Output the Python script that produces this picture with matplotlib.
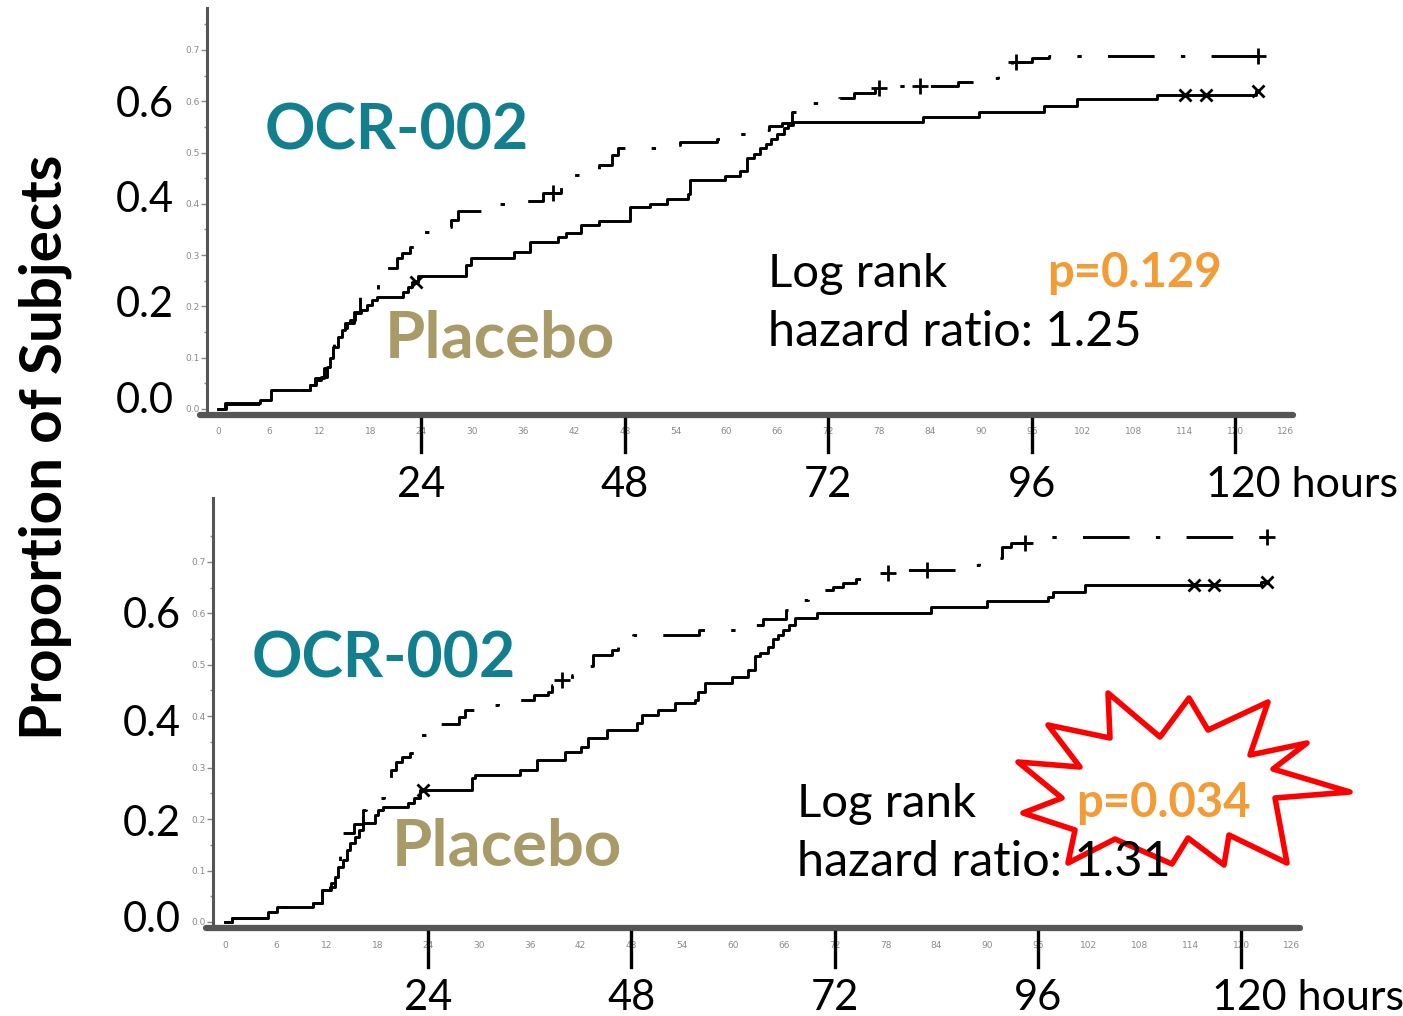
import matplotlib
matplotlib.use("Agg")
import matplotlib.pyplot as plt
from matplotlib.patches import Polygon

plt.rcParams['font.family'] = ['Lato', 'DejaVu Sans']

# ---- data (hours, cumulative proportion) ----
top_ocr_t = [0, 1, 5, 6.5, 10.8, 11.5, 12.5, 13.2, 13.7, 14.0, 15.2, 16.0, 16.8, 18.3, 18.9,
             19.6, 19.9, 21.1, 21.7, 22.6, 23.2, 27.0, 27.5, 28.3, 32.5, 35.0, 38.4, 40.5,
             41.8, 43.0, 45.0, 46.5, 47.2, 52.0, 54.5, 58.9, 60.5, 63.0, 65.0, 66.5, 67.7,
             68.7, 71.5, 73.3, 75.0, 77.5, 78.5, 87.3, 89.7, 92.0, 93.7, 96.0, 98.0, 122.7]
top_ocr_p = [0, 0.01, 0.018, 0.037, 0.047, 0.06, 0.08, 0.10, 0.13, 0.158, 0.168, 0.19, 0.222,
             0.232, 0.245, 0.26, 0.275, 0.294, 0.304, 0.316, 0.345, 0.355, 0.368, 0.385, 0.40,
             0.405, 0.421, 0.438, 0.456, 0.46, 0.476, 0.495, 0.509, 0.515, 0.52, 0.526, 0.536,
             0.544, 0.552, 0.557, 0.578, 0.596, 0.602, 0.606, 0.616, 0.626, 0.63, 0.637, 0.645,
             0.668, 0.676, 0.684, 0.688, 0.688]
top_ocr_cens = [39.5, 78.0, 82.8, 94.2, 122.7]

top_pla_t = [0, 0.8, 5.0, 6.3, 10.8, 11.6, 12.2, 12.8, 13.2, 13.6, 14.2, 14.6, 15.0, 15.6,
             16.2, 16.9, 17.6, 18.2, 18.7, 21.8, 22.4, 22.9, 23.6, 29.2, 29.8, 34.9, 36.8,
             40.1, 41.0, 42.8, 45.0, 48.6, 51.0, 53.0, 55.4, 55.7, 59.8, 61.6, 62.4, 63.2,
             64.0, 64.6, 65.2, 66.0, 66.8, 67.3, 67.8, 83.2, 89.8, 97.4, 101.3, 110.8, 122.5,
             122.7]
top_pla_p = [0, 0.012, 0.018, 0.037, 0.047, 0.057, 0.062, 0.082, 0.10, 0.12, 0.14, 0.154,
             0.168, 0.173, 0.187, 0.193, 0.203, 0.212, 0.218, 0.228, 0.238, 0.248, 0.26, 0.28,
             0.294, 0.306, 0.325, 0.335, 0.343, 0.359, 0.366, 0.394, 0.40, 0.41, 0.42, 0.446,
             0.454, 0.464, 0.49, 0.497, 0.508, 0.516, 0.526, 0.536, 0.548, 0.553, 0.56, 0.569,
             0.578, 0.59, 0.605, 0.612, 0.62, 0.62]
top_pla_cens = [23.3, 114.1, 116.6, 122.7]

bot_ocr_t = [0, 0.8, 5.0, 6.0, 10.4, 11.5, 12.5, 13.2, 13.6, 13.8, 15.2, 16.3, 16.7, 18.8,
             19.2, 19.6, 20.2, 20.9, 21.8, 22.7, 23.0, 23.7, 24.3, 27.6, 28.3, 30.5, 32.2,
             36.5, 38.1, 38.6, 39.3, 41.0, 41.6, 43.5, 45.7, 46.4, 47.2, 48.2, 56.0, 60.5,
             63.5, 66.2, 66.8, 67.8, 68.8, 69.4, 71.8, 73.0, 74.5, 75.8, 78.7, 87.5, 89.0,
             90.3, 91.8, 92.8, 97.5, 123.0]
bot_ocr_p = [0, 0.008, 0.02, 0.03, 0.037, 0.062, 0.075, 0.10, 0.134, 0.173, 0.19, 0.218,
             0.241, 0.263, 0.28, 0.296, 0.311, 0.321, 0.329, 0.34, 0.364, 0.373, 0.385, 0.399,
             0.412, 0.422, 0.432, 0.442, 0.447, 0.461, 0.47, 0.48, 0.498, 0.519, 0.529, 0.539,
             0.549, 0.558, 0.568, 0.578, 0.588, 0.607, 0.613, 0.626, 0.636, 0.646, 0.652,
             0.658, 0.667, 0.679, 0.685, 0.694, 0.698, 0.708, 0.728, 0.737, 0.749, 0.749]
bot_ocr_cens = [39.8, 78.3, 82.9, 94.5, 123.0]

bot_pla_t = [0, 0.8, 5.1, 6.1, 10.4, 11.5, 12.4, 13.0, 13.4, 13.9, 14.4, 14.8, 15.3, 15.8,
             16.3, 17.7, 18.1, 18.7, 21.6, 22.3, 23.0, 29.2, 29.5, 34.8, 36.9, 40.1, 42.0,
             42.9, 45.1, 48.6, 49.2, 51.1, 53.1, 55.5, 55.9, 56.7, 59.9, 61.8, 62.6, 63.2,
             64.1, 64.7, 65.3, 65.9, 66.6, 67.3, 69.9, 83.4, 90.0, 97.2, 97.8, 101.6, 122.3,
             123.0]
bot_pla_p = [0, 0.008, 0.02, 0.03, 0.037, 0.062, 0.068, 0.088, 0.107, 0.12, 0.14, 0.154,
             0.165, 0.179, 0.193, 0.208, 0.218, 0.224, 0.231, 0.241, 0.257, 0.28, 0.286, 0.296,
             0.315, 0.331, 0.341, 0.358, 0.373, 0.387, 0.403, 0.412, 0.426, 0.432, 0.446,
             0.465, 0.477, 0.49, 0.516, 0.523, 0.535, 0.549, 0.558, 0.568, 0.578, 0.59, 0.601,
             0.613, 0.623, 0.632, 0.642, 0.654, 0.661, 0.661]
bot_pla_cens = [23.4, 114.4, 116.8, 123.0]

small_xticks = list(range(0, 127, 6))
small_yticks = [0.0, 0.1, 0.2, 0.3, 0.4, 0.5, 0.6, 0.7]
big_xticks = [24, 48, 72, 96, 120]
big_yticks = [0.0, 0.2, 0.4, 0.6]

W, H = 1403, 1016
fig = plt.figure(figsize=(W / 100, H / 100), dpi=100)

TEAL = '#127f8f'
KHAKI = '#a99b68'
ORANGE = '#f39b35'
GREY = '#555555'


def px_axes(l, t, r, b):
    return fig.add_axes([l / W, 1 - b / H, (r - l) / W, (b - t) / H])


def ftext(x, y, s, **kw):
    return fig.text(x / W, 1 - y / H, s, **kw)


def value_at(ts, ps, x):
    v = ps[0]
    for t, p in zip(ts, ps):
        if t <= x:
            v = p
    return v


def panel(ax, xlim, ylim, ocr_t, ocr_p, ocr_c, pla_t, pla_p, pla_c):
    ax.set_xlim(*xlim)
    ax.set_ylim(*ylim)
    for s in ['top', 'right', 'bottom']:
        ax.spines[s].set_visible(False)
    ax.spines['left'].set_color(GREY)
    ax.spines['left'].set_linewidth(2.2)

    ax.step(pla_t, pla_p, where='post', color='black', lw=2.1)
    ax.step(ocr_t, ocr_p, where='post', color='black', lw=2.1,
            linestyle=(0, (16, 9, 1.5, 9)))
    ax.plot(ocr_c, [value_at(ocr_t, ocr_p, c) for c in ocr_c], '+', color='black',
            ms=11, mew=2, clip_on=False)
    ax.plot(pla_c, [value_at(pla_t, pla_p, c) for c in pla_c], 'x', color='black',
            ms=9, mew=2, clip_on=False)

    # thick x axis line
    ax.plot([-0.006, 1.0], [0, 0], transform=ax.transAxes, color=GREY, lw=4.5,
            solid_capstyle='round', clip_on=False, zorder=3)

    ax.set_xticks(small_xticks)
    ax.set_xticklabels([str(v) for v in small_xticks], fontsize=6.5, color='#8a8a8a',
                       family='DejaVu Sans')
    ax.tick_params(axis='x', length=0, pad=9)
    ax.set_yticks(small_yticks)
    ax.set_yticklabels([f'{v:.1f}' for v in small_yticks], fontsize=6.5, color='#8a8a8a',
                       family='DejaVu Sans')
    ax.set_yticks([v + 0.05 for v in small_yticks], minor=True)
    ax.tick_params(axis='y', which='major', length=4, width=1, color='#888888', pad=1.5)
    ax.tick_params(axis='y', which='minor', length=2, width=1, color='#888888')

    # big black ticks below the axis
    tr = ax.get_xaxis_transform()
    for v in big_xticks:
        ax.plot([v, v], [-0.01, -0.09], transform=tr, color='black', lw=2.4,
                clip_on=False, zorder=4)


ax1 = px_axes(207, 8, 1293, 415)
panel(ax1, (-1.3, 126.83), (-0.0117, 0.7817),
      top_ocr_t, top_ocr_p, top_ocr_cens, top_pla_t, top_pla_p, top_pla_cens)

ax2 = px_axes(213, 498, 1300, 928)
panel(ax2, (-1.42, 126.95), (-0.0117, 0.824),
      bot_ocr_t, bot_ocr_p, bot_ocr_cens, bot_pla_t, bot_pla_p, bot_pla_cens)

# big axis labels
big_fs = 30
for v, y in zip(big_yticks, [413, 317, 212, 117]):
    ftext(174, y, f'{v:.1f}', fontsize=big_fs, ha='right', va='baseline')
for v, y in zip(big_yticks, [932, 836, 736, 628]):
    ftext(181, y, f'{v:.1f}', fontsize=big_fs, ha='right', va='baseline')

for v in big_xticks:
    for ax, y in [(ax1, 497), (ax2, 1010)]:
        xpix = ax.transData.transform((v, 0))[0]
        ypix = H - y
        if v == 120:
            ax.annotate('120 hours', xy=(xpix - 29, ypix), xycoords='figure pixels',
                        fontsize=big_fs + 1, ha='left', va='baseline')
        else:
            ax.annotate(str(v), xy=(xpix, ypix), xycoords='figure pixels',
                        fontsize=big_fs, ha='center', va='baseline')

ftext(45, 447, 'Proportion of Subjects', fontsize=42, fontweight='bold', rotation=90,
      ha='center', va='center')

# panel annotations
ftext(265, 150, 'OCR-002', fontsize=45, fontweight='bold', color=TEAL, va='baseline')
ftext(385, 358, 'Placebo', fontsize=47, fontweight='bold', color=KHAKI, va='baseline')
ftext(768, 287, 'Log rank', fontsize=34, va='baseline')
ftext(1047, 287, 'p=0.129', fontsize=34, fontweight='bold', color=ORANGE, va='baseline')
ftext(768, 346, 'hazard ratio: 1.25', fontsize=35, va='baseline')

ftext(252, 678, 'OCR-002', fontsize=45, fontweight='bold', color=TEAL, va='baseline')
ftext(392, 866, 'Placebo', fontsize=47, fontweight='bold', color=KHAKI, va='baseline')
ftext(797, 817, 'Log rank', fontsize=34, va='baseline')
ftext(1076, 817, 'p=0.034', fontsize=34, fontweight='bold', color=ORANGE, va='baseline')
ftext(797, 876, 'hazard ratio: 1.31', fontsize=35, va='baseline')

# red burst around the p value
star_px = [(1108, 693), (1160, 737), (1189, 698), (1208, 730), (1268, 702), (1250, 755),
           (1307, 743), (1273, 769), (1350, 792), (1275, 798), (1287, 863), (1229, 835),
           (1224, 865), (1188, 838), (1172, 864), (1115, 839), (1068, 863), (1075, 830),
           (1023, 813), (1062, 798), (1018, 762), (1080, 767), (1048, 725), (1110, 738)]
star = Polygon([(x / W, 1 - y / H) for x, y in star_px], closed=True, fill=False,
               edgecolor='#ff0000', lw=4, joinstyle='round', transform=fig.transFigure)
fig.patches.append(star)

fig.savefig('out.png', dpi=100)
